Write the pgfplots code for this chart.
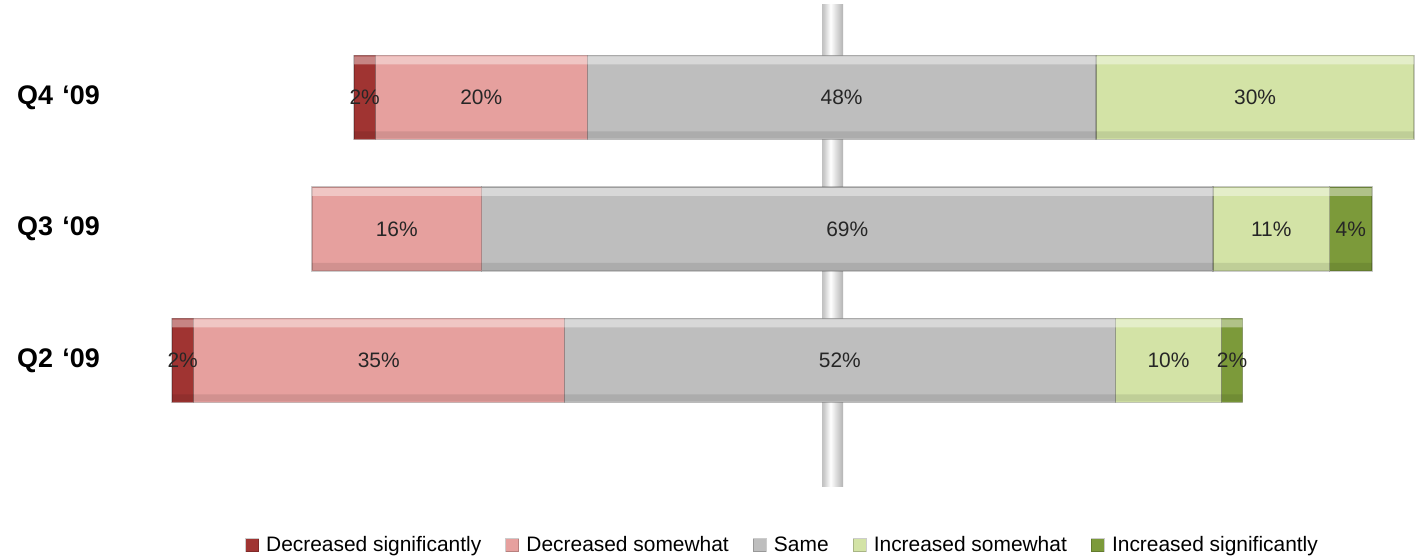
\documentclass[border=0pt]{standalone}
\usepackage{pgfplots}
\usepackage{pgfplotstable}
\pgfplotsset{compat=1.18}
\usepackage{fontspec}
\setmainfont{Liberation Sans}
\definecolor{cDS}{RGB}{160,52,50}
\definecolor{cDW}{RGB}{230,160,158}
\definecolor{cSame}{RGB}{190,190,190}
\definecolor{cIW}{RGB}{211,227,166}
\definecolor{cIS}{RGB}{124,154,58}
\pgfdeclarehorizontalshading{cyl}{100bp}{
  color(0bp)=(black!45); color(30bp)=(black!20); color(45bp)=(white); color(60bp)=(black!15);
  color(85bp)=(black!40); color(90bp)=(black!75); color(100bp)=(black!75)}
% y = bar centre, off = invisible offset that places the bar against the centre line
\pgfplotstableread{
y     off    ds dw same iw is
459.5 -45.09 2  20 48   30 0
328   -49.06 0  16 69   11 4
196.5 -62.26 2  35 52   10 2
}\data
\pgfplotsset{
  base/.style={width=1420bp, height=557bp, scale only axis,
    xmin=-78.49, xmax=55.47, ymin=0, ymax=557,
    hide axis, clip=false, at={(0,0)}, anchor=south west},
  stk/.style={xbar stacked, stack negative=on previous},
  seg/.style={fill=#1, draw=black, draw opacity=0.2, line width=1.2bp},
  hl/.style={draw=none, fill=white, fill opacity=0.4},
  sh/.style={draw=none, fill=black, fill opacity=0.09},
}
\begin{document}
\begin{tikzpicture}
\useasboundingbox (0,0) rectangle (1420bp,557bp);
% centre line
\begin{axis}[base]
\addplot[draw=none, mark=none, forget plot] coordinates {(0,70) (0,552)};
\shade[shading=cyl] (axis cs:-0.94,70) rectangle (axis cs:1.04,552);
\end{axis}
% bars
\begin{axis}[base, stk, bar width=84,
  legend columns=5,
  legend style={at={(0.551,0.0215)}, anchor=center, draw=none, fill=none,
    font=\fontsize{21}{24}\selectfont, inner sep=0pt,
    /tikz/every odd column/.append style={column sep=5bp},
    /tikz/every even column/.append style={column sep=22bp}},
  legend image code/.code={\fill[#1] (0bp,-6.5bp) rectangle (13bp,6.5bp);},
]
\addplot[draw=none, fill=none, forget plot] table[x=off, y=y] {\data};
\addplot[seg=cDS] table[x=ds, y=y] {\data};
\addlegendentry{Decreased significantly}
\addplot[seg=cDW] table[x=dw, y=y] {\data};
\addlegendentry{Decreased somewhat}
\addplot[seg=cSame] table[x=same, y=y] {\data};
\addlegendentry{Same}
\addplot[seg=cIW] table[x=iw, y=y] {\data};
\addlegendentry{Increased somewhat}
\addplot[seg=cIS] table[x=is, y=y] {\data};
\addlegendentry{Increased significantly}
\end{axis}
% top highlight of each bar
\begin{axis}[base, stk, bar width=8, bar shift=37]
\addplot[draw=none, fill=none] table[x=off, y=y] {\data};
\addplot[hl] table[x=ds, y=y] {\data};
\addplot[hl] table[x=dw, y=y] {\data};
\addplot[hl] table[x=same, y=y] {\data};
\addplot[hl] table[x=iw, y=y] {\data};
\addplot[hl] table[x=is, y=y] {\data};
\end{axis}
% bottom shadow of each bar
\begin{axis}[base, stk, bar width=7, bar shift=-37.5]
\addplot[draw=none, fill=none] table[x=off, y=y] {\data};
\addplot[sh] table[x=ds, y=y] {\data};
\addplot[sh] table[x=dw, y=y] {\data};
\addplot[sh] table[x=same, y=y] {\data};
\addplot[sh] table[x=iw, y=y] {\data};
\addplot[sh] table[x=is, y=y] {\data};
\end{axis}
% labels
\begin{axis}[base]
\addplot[draw=none, mark=none, nodes near coords, point meta=explicit symbolic,
  nodes near coords style={anchor=center, font=\fontsize{21}{24}\selectfont, text=black!85}]
  coordinates {
  (-44.09,459.5)[2\%] (-33.09,459.5)[20\%] (0.91,459.5)[48\%] (39.91,459.5)[30\%]
  (-41.06,328)[16\%] (1.44,328)[69\%] (41.44,328)[11\%] (48.94,328)[4\%]
  (-61.26,196.5)[2\%] (-42.76,196.5)[35\%] (0.74,196.5)[52\%] (31.74,196.5)[10\%] (37.74,196.5)[2\%]
  };
\addplot[draw=none, mark=none, nodes near coords, point meta=explicit symbolic,
  nodes near coords style={anchor=west, font=\fontsize{27}{30}\selectfont\bfseries, text=black}]
  coordinates {
  (-77.2,459.5)[Q4\hspace{0.35em}‘09] (-77.2,328)[Q3\hspace{0.35em}‘09] (-77.2,196.5)[Q2\hspace{0.35em}‘09]
  };
\end{axis}
\end{tikzpicture}
\end{document}
